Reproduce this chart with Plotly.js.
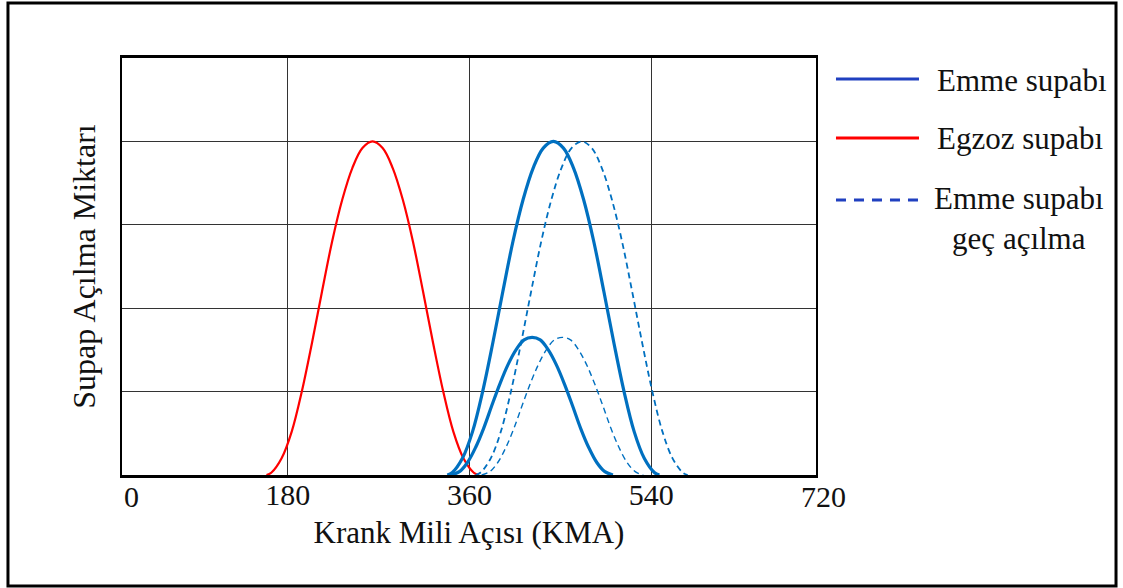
<!DOCTYPE html>
<html>
<head>
<meta charset="utf-8">
<script src="https://cdn.plot.ly/plotly-3.0.1.min.js"></script>
<style>html,body{margin:0;padding:0;background:#fff;}#chart{width:1123px;height:588px;}</style>
</head>
<body>
<div id="chart"></div>
<script>
// Crank angle (deg) and valve lift (grid units)
const exhaustX = [159,164,174,184,194,204,214,224,234,244,254,264,274,284,294,304,314,324,334,344,354,364,369];
const exhaustY = [0,0.03,0.2,0.52,1.0,1.58,2.2,2.8,3.3,3.68,3.92,4.0,3.92,3.68,3.3,2.8,2.2,1.58,1.0,0.52,0.2,0.03,0];

const intakeBigX = [338,343,353,363,373,383,393,403,413,423,433,443,453,463,473,483,493,503,513,523,533,543,548];
const intakeBigY = [0,0.03,0.2,0.52,1.0,1.58,2.2,2.8,3.3,3.68,3.92,4.0,3.92,3.68,3.3,2.8,2.2,1.58,1.0,0.52,0.2,0.03,0];

const intakeSmallX = [342,350,358,366,374,382,390,398,406,414,422,430,438,446,454,462,470,478,486,494,502];
const intakeSmallY = [0,0.04,0.15,0.33,0.56,0.83,1.09,1.32,1.5,1.62,1.65,1.62,1.5,1.32,1.09,0.83,0.56,0.33,0.15,0.04,0];

const lateBigX = [366,371,381,391,401,411,421,431,441,451,461,471,481,491,501,511,521,531,541,551,561,571,576];
const lateBigY = [0,0.03,0.2,0.52,1.0,1.58,2.2,2.8,3.3,3.68,3.92,4.0,3.92,3.68,3.3,2.8,2.2,1.58,1.0,0.52,0.2,0.03,0];

const lateSmallX = [372,380,388,396,404,412,420,428,436,444,452,460,468,476,484,492,500,508,516,524,532];
const lateSmallY = [0,0.04,0.15,0.33,0.56,0.83,1.09,1.32,1.5,1.62,1.65,1.62,1.5,1.32,1.09,0.83,0.56,0.33,0.15,0.04,0];

const xTickVals = [180, 360, 540];
const xTickText = ['180', '360', '540'];
const xEdgeLabels = ['0', '720'];
const legendLabels = ['Emme supabı', 'Egzoz supabı', 'Emme supabı<br>geç açılma'];
const xTitle = 'Krank Mili Açısı (KMA)';
const yTitle = 'Supap Açılma Miktarı';

const FONT = 'Liberation Serif';
const BLUE = '#0070c0';
const F = (s) => ({family: FONT, size: s || 31, color: '#111'});

const traces = [
  {x: exhaustX, y: exhaustY, mode: 'lines', line: {color: '#ff0000', width: 2.2, shape: 'spline'}, showlegend: false},
  {x: intakeBigX, y: intakeBigY, mode: 'lines', line: {color: BLUE, width: 3.2, shape: 'spline'}, showlegend: false},
  {x: intakeSmallX, y: intakeSmallY, mode: 'lines', line: {color: BLUE, width: 3.2, shape: 'spline'}, showlegend: false},
  {x: lateBigX, y: lateBigY, mode: 'lines', line: {color: BLUE, width: 1.8, dash: '6px,4px', shape: 'spline'}, showlegend: false},
  {x: lateSmallX, y: lateSmallY, mode: 'lines', line: {color: BLUE, width: 1.4, dash: '6px,4px', shape: 'spline'}, showlegend: false}
];

const layout = {
  width: 1123, height: 588,
  margin: {l: 122, r: 307, t: 58, b: 113},
  paper_bgcolor: '#fff', plot_bgcolor: '#fff',
  font: F(),
  showlegend: false,
  xaxis: {
    range: [16, 703], tickvals: xTickVals, ticktext: xTickText,
    ticks: '', showgrid: true, gridcolor: '#333', gridwidth: 1,
    showline: true, linecolor: '#000', linewidth: 3, mirror: true,
    zeroline: false, tickfont: F(30),
    ticklabelstandoff: -9,
    title: {text: xTitle, font: F(31), standoff: 12}
  },
  yaxis: {
    range: [0, 5], dtick: 1, tick0: 0, showticklabels: false, ticks: '',
    showgrid: true, gridcolor: '#333', gridwidth: 1,
    showline: true, linecolor: '#000', linewidth: 2, mirror: true, zeroline: false,
    title: {text: yTitle, font: F(32), standoff: 15}
  },
  shapes: [
    {type: 'rect', xref: 'paper', yref: 'paper', x0: -0.1643, x1: 1.4323, y0: -0.2662, y1: 1.1319, line: {color: '#000', width: 3}},
    {type: 'line', xref: 'paper', yref: 'paper', x0: 1.0288, x1: 1.1484, y0: 0.9496, y1: 0.9496, line: {color: '#2040c0', width: 3}},
    {type: 'line', xref: 'paper', yref: 'paper', x0: 1.0288, x1: 1.1484, y0: 0.8082, y1: 0.8082, line: {color: '#ff0000', width: 3}},
    {type: 'line', xref: 'paper', yref: 'paper', x0: 1.0288, x1: 1.1484, y0: 0.6595, y1: 0.6595, line: {color: '#2040c0', width: 3, dash: '10px,8px'}}
  ],
  annotations: [
    {xref: 'paper', yref: 'paper', x: 0.0144, y: -0.052, text: xEdgeLabels[0], showarrow: false, xanchor: 'center', yanchor: 'middle', font: F(30)},
    {xref: 'paper', yref: 'paper', x: 1.0101, y: -0.052, text: xEdgeLabels[1], showarrow: false, xanchor: 'center', yanchor: 'middle', font: F(30)},
    {xref: 'paper', yref: 'paper', x: 1.1715, y: 0.947, text: legendLabels[0], showarrow: false, xanchor: 'left', yanchor: 'middle', font: F(31)},
    {xref: 'paper', yref: 'paper', x: 1.1715, y: 0.806, text: legendLabels[1], showarrow: false, xanchor: 'left', yanchor: 'middle', font: F(31)},
    {xref: 'paper', yref: 'paper', x: 1.2925, y: 0.615, text: legendLabels[2], showarrow: false, xanchor: 'center', yanchor: 'middle', align: 'center', font: F(31)}
  ]
};

Plotly.newPlot('chart', traces, layout, {displayModeBar: false, staticPlot: true});
</script>
</body>
</html>
